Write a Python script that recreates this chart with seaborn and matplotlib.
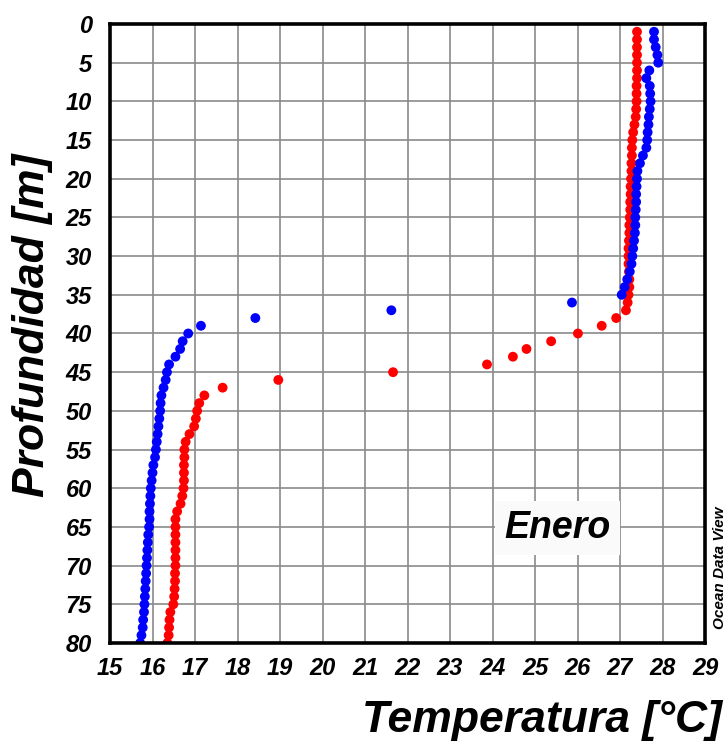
import numpy as np
import pandas as pd
import matplotlib
matplotlib.use("Agg")
import matplotlib.pyplot as plt
import seaborn as sns

# Profundidades (m), un punto por metro
profundidad = list(range(1, 81))

# Perfil azul (°C)
temp_azul = [
    27.80, 27.80, 27.84, 27.88, 27.90, 27.69, 27.62, 27.70, 27.71, 27.72,
    27.70, 27.68, 27.67, 27.65, 27.64, 27.62, 27.54, 27.47, 27.41, 27.40,
    27.39, 27.38, 27.38, 27.37, 27.36, 27.36, 27.35, 27.33, 27.31, 27.29,
    27.27, 27.23, 27.17, 27.11, 27.04, 25.87, 21.62, 18.42, 17.14, 16.84,
    16.71, 16.65, 16.54, 16.39, 16.34, 16.31, 16.26, 16.21, 16.19, 16.18,
    16.16, 16.14, 16.12, 16.10, 16.08, 16.06, 16.02, 16.00, 15.98, 15.96,
    15.95, 15.94, 15.93, 15.93, 15.92, 15.90, 15.89, 15.88, 15.87, 15.86,
    15.85, 15.84, 15.83, 15.82, 15.81, 15.80, 15.78, 15.77, 15.74, 15.71,
]

# Perfil rojo (°C)
temp_rojo = [
    27.40, 27.40, 27.40, 27.40, 27.40, 27.40, 27.40, 27.39, 27.39, 27.39,
    27.38, 27.37, 27.34, 27.31, 27.29, 27.28, 27.28, 27.27, 27.27, 27.26,
    27.25, 27.25, 27.24, 27.24, 27.23, 27.22, 27.22, 27.21, 27.20, 27.20,
    27.20, 27.21, 27.22, 27.22, 27.20, 27.18, 27.14, 26.91, 26.57, 26.01,
    25.38, 24.80, 24.48, 23.87, 21.66, 18.96, 17.65, 17.22, 17.10, 17.05,
    17.02, 16.98, 16.87, 16.78, 16.75, 16.75, 16.74, 16.74, 16.74, 16.73,
    16.70, 16.66, 16.58, 16.54, 16.54, 16.54, 16.54, 16.54, 16.54, 16.54,
    16.53, 16.53, 16.52, 16.51, 16.49, 16.42, 16.40, 16.39, 16.38, 16.35,
]

x_ticks = list(range(15, 30))
y_ticks = list(range(0, 85, 5))

df_rojo = pd.DataFrame({"temp": temp_rojo, "prof": profundidad})
df_azul = pd.DataFrame({"temp": temp_azul, "prof": profundidad})

sns.set_style("white")
plt.rcParams['font.family'] = ['Liberation Sans', 'DejaVu Sans']
plt.rcParams['text.color'] = 'black'
plt.rcParams['xtick.color'] = 'black'
plt.rcParams['ytick.color'] = 'black'

fig = plt.figure(figsize=(7.28, 7.42), dpi=100)
ax = fig.add_axes([110 / 728, 1 - 643 / 742, 595 / 728, 619 / 742])

# Rejilla
for t in x_ticks[1:-1]:
    ax.axvline(t, color="#8a8a8a", lw=1.2, zorder=0)
for p in y_ticks[1:-1]:
    ax.axhline(p, color="#8a8a8a", lw=1.2, zorder=0)

# Cuadro "Enero" sobre la rejilla
fig.text(557 / 728, 1 - 528 / 742, "Enero", ha="center", va="center",
         fontsize=27, fontweight="bold", fontstyle="italic", zorder=3,
         bbox=dict(boxstyle="square,pad=0.25", fc="#fafafa", ec="none"))

sns.scatterplot(data=df_rojo, x="temp", y="prof", color="#ff0000", s=50,
                edgecolor="none", ax=ax, zorder=4)
sns.scatterplot(data=df_azul, x="temp", y="prof", color="#0000ff", s=50,
                edgecolor="none", ax=ax, zorder=5)

ax.set_xlim(15, 29)
ax.set_ylim(80, 0)
ax.set_xticks(x_ticks)
ax.set_yticks(y_ticks)
ax.tick_params(axis="both", direction="out", length=6, width=1.3, color="black",
               labelcolor="black", labelsize=17, pad=4)
ax.tick_params(axis="y", pad=7)
for lab in ax.get_xticklabels() + ax.get_yticklabels():
    lab.set_fontweight("bold")
    lab.set_fontstyle("italic")

for side in ["left", "right", "top", "bottom"]:
    ax.spines[side].set_visible(True)
    ax.spines[side].set_color("black")
    ax.spines[side].set_linewidth(2.6)
    ax.spines[side].set_zorder(6)

ax.set_xlabel("")
ax.set_ylabel("")

fig.text(33 / 728, 1 - 325 / 742, "Profundidad [m]", rotation=90, ha="center",
         va="center", fontsize=32, fontweight="bold", fontstyle="italic")
fig.text(722 / 728, 1 - 732 / 742, "Temperatura [°C]", ha="right", va="baseline",
         fontsize=32, fontweight="bold", fontstyle="italic")
fig.text(720 / 728, 1 - 568 / 742, "Ocean Data View", rotation=90, ha="center",
         va="center", fontsize=11, fontweight="bold", fontstyle="italic")

fig.savefig("out.png", dpi=100)
